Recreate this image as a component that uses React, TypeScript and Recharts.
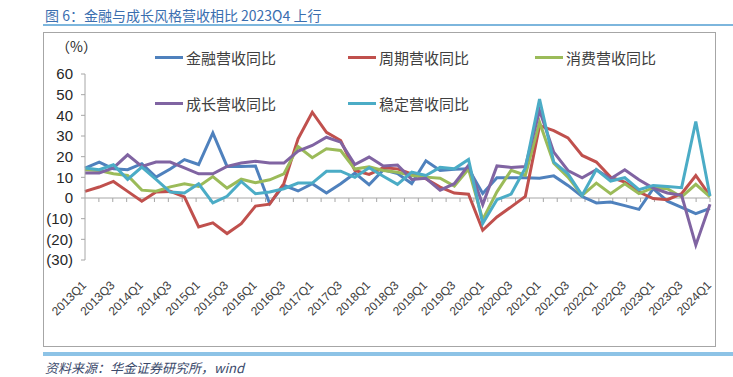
import { LineChart, Line, XAxis, YAxis, ReferenceLine, Legend } from "recharts";

const quarters = [
  "2013Q1", "2013Q2", "2013Q3", "2013Q4",
  "2014Q1", "2014Q2", "2014Q3", "2014Q4",
  "2015Q1", "2015Q2", "2015Q3", "2015Q4",
  "2016Q1", "2016Q2", "2016Q3", "2016Q4",
  "2017Q1", "2017Q2", "2017Q3", "2017Q4",
  "2018Q1", "2018Q2", "2018Q3", "2018Q4",
  "2019Q1", "2019Q2", "2019Q3", "2019Q4",
  "2020Q1", "2020Q2", "2020Q3", "2020Q4",
  "2021Q1", "2021Q2", "2021Q3", "2021Q4",
  "2022Q1", "2022Q2", "2022Q3", "2022Q4",
  "2023Q1", "2023Q2", "2023Q3", "2023Q4",
  "2024Q1",
];

// 金融营收同比
const finance = [
  14.5, 17.4, 14.1, 13.7, 16.6, 10.1, 14.0, 18.6, 16.2, 31.5, 15.3, 15.3,
  15.5, -2.7, 6.1, 3.4, 6.9, 2.4, 6.9, 12.0, 6.4, 13.6, 11.8, 7.0,
  18.0, 13.3, 13.9, 14.1, 2.2, 9.8, 9.8, 9.8, 9.6, 10.7, 6.1, 0.7,
  -2.4, -1.9, -3.7, -5.5, 4.5, -1.5, -4.5, -7.6, -5.0,
];

// 周期营收同比
const cyclical = [
  3.2, 5.3, 8.0, 3.2, -1.6, 2.9, 3.2, 0.5, -14.0, -12.0, -17.2, -12.4,
  -3.9, -3.0, 7.0, 28.6, 41.5, 31.8, 27.8, 13.3, 11.4, 14.6, 14.1, 11.7,
  9.3, 5.3, 2.4, 1.8, -15.6, -9.2, -4.3, 0.8, 35.0, 32.6, 29.1, 20.6,
  17.4, 10.1, 7.7, 2.9, -0.3, -0.8, 2.1, 10.9, 1.0,
];

// 消费营收同比
const consumer = [
  13.7, 13.3, 11.7, 10.9, 3.8, 3.3, 5.4, 6.9, 5.6, 10.4, 4.8, 9.1,
  7.4, 8.8, 11.7, 24.9, 19.5, 23.8, 23.0, 14.0, 15.1, 13.3, 12.5, 10.9,
  10.1, 9.6, 5.8, 14.0, -10.5, 3.0, 13.4, 11.0, 36.7, 16.8, 10.1, 1.3,
  7.2, 2.1, 6.9, 2.1, 5.0, 4.5, 0.5, 6.6, 0.5,
];

// 成长营收同比
const growth = [
  12.1, 12.1, 14.6, 20.9, 15.3, 17.4, 17.4, 14.6, 11.7, 11.7, 15.3, 16.9,
  17.8, 16.9, 16.9, 22.7, 25.4, 29.4, 27.0, 16.2, 19.8, 15.5, 16.0, 9.0,
  9.5, 3.8, 6.9, 15.8, -3.2, 15.5, 14.8, 15.2, 42.3, 22.2, 13.3, 9.8,
  13.7, 9.3, 13.7, 8.8, 4.8, 2.4, 1.3, -22.8, -3.0,
];

// 稳定营收同比
const stable = [
  14.5, 13.7, 16.1, 9.0, 15.0, 9.0, 2.9, 2.4, 6.9, -2.4, 0.8, 8.0,
  2.1, 2.9, 4.5, 7.2, 7.2, 12.9, 13.0, 10.0, 14.6, 10.5, 6.6, 12.5,
  10.9, 14.8, 14.1, 18.6, -12.3, -0.8, 1.9, 14.5, 47.9, 17.4, 11.7, 1.3,
  13.8, 8.2, 9.8, 4.0, 6.1, 5.6, 5.0, 37.0, 1.0,
];

const yTicks = [-30, -20, -10, 0, 10, 20, 30, 40, 50, 60];

const series = [
  { key: "finance", name: "金融营收同比", color: "#4F81BD" },
  { key: "cyclical", name: "周期营收同比", color: "#C0504D" },
  { key: "consumer", name: "消费营收同比", color: "#9BBB59" },
  { key: "growth", name: "成长营收同比", color: "#8064A2" },
  { key: "stable", name: "稳定营收同比", color: "#4BACC6" },
];

const data = quarters.map((q, i) => ({
  q,
  finance: finance[i],
  cyclical: cyclical[i],
  consumer: consumer[i],
  growth: growth[i],
  stable: stable[i],
}));

const CJK = '"Noto Sans CJK SC", "Noto Sans", sans-serif';
const LATIN = '"Liberation Sans", Arial, sans-serif';

const fmtY = (v: number) => (v < 0 ? `(${-v})` : `${v}`);

const XTick = ({ x, y, payload }: any) => (
  <text
    x={x + 2}
    y={y + 18}
    transform={`rotate(-45 ${x + 2} ${y + 18})`}
    textAnchor="end"
    fontSize={12}
    fontFamily={LATIN}
    fill="#404040">
    {payload.value}
  </text>
);

// zero axis line with category tick marks
const ZeroAxis = (props: any) => {
  const { x1, x2, y1 } = props;
  const n = quarters.length;
  const step = (x2 - x1) / n;
  const marks = [];
  for (let k = 1; k <= n; k++) {
    const tx = x1 + step * k;
    marks.push(<line key={k} x1={tx} x2={tx} y1={y1} y2={y1 + 4} stroke="#A6A6A6" />);
  }
  return (
    <g>
      <line x1={x1} x2={x2} y1={y1} y2={y1} stroke="#A6A6A6" />
      {marks}
    </g>
  );
};

// legend slot per series, in series order
const legendSlots = [
  { left: 155, top: 57 },
  { left: 348, top: 57 },
  { left: 535, top: 57 },
  { left: 155, top: 103 },
  { left: 348, top: 103 },
];

const renderLegend = (props: any) => {
  const { payload } = props;
  return (
    <div style={{ position: "relative", width: 0, height: 0 }}>
      {(payload || []).map((p: any) => {
        const idx = series.findIndex((s) => s.name === p.value);
        const slot = legendSlots[idx < 0 ? 0 : idx];
        return (
          <div
            key={p.value}
            style={{
              position: "absolute",
              left: slot.left,
              top: slot.top - 11,
              height: 22,
              display: "flex",
              alignItems: "center",
              whiteSpace: "nowrap",
            }}>
            <span style={{ display: "inline-block", width: 28, height: 3, background: p.color }} />
            <span style={{ marginLeft: 3, fontFamily: CJK, fontSize: 15, color: "#404040" }}>{p.value}</span>
          </div>
        );
      })}
    </div>
  );
};

export default function App() {
  return (
    <div
      style={{
        position: "absolute",
        left: 0,
        top: 0,
        width: 733,
        height: 377,
        background: "#fff",
        overflow: "hidden",
      }}>
      <div
        style={{
          position: "absolute",
          left: 45,
          top: 5,
          fontFamily: CJK,
          fontSize: 14,
          color: "#3A6EAF",
          whiteSpace: "nowrap",
        }}>
        图 6：金融与成长风格营收相比 2023Q4 上行
      </div>
      <div style={{ position: "absolute", left: 43, top: 24, width: 690, height: 2, background: "#7DB6DD" }} />
      <div
        style={{
          position: "absolute",
          left: 43,
          top: 32,
          width: 671,
          height: 313,
          border: "1px solid #A6A6A6",
        }}
      />
      <div
        style={{
          position: "absolute",
          left: 56,
          top: 36,
          fontFamily: CJK,
          fontSize: 14,
          color: "#262626",
        }}>
        （%）
      </div>
      <div style={{ position: "absolute", left: 43, top: 352, width: 690, height: 4, background: "#8DC3E6" }} />
      <div
        style={{
          position: "absolute",
          left: 45,
          top: 358,
          fontFamily: CJK,
          fontSize: 13,
          fontStyle: "italic",
          color: "#3B4A6B",
          whiteSpace: "nowrap",
        }}>
        资料来源：华金证券研究所，wind
      </div>
      <div style={{ position: "absolute", left: 0, top: 0 }}>
        <LineChart width={733} height={377} data={data} margin={{ top: 74, right: 23, bottom: 57, left: 45 }}>
          <XAxis dataKey="q" interval={1} axisLine={false} tickLine={false} tick={<XTick />} height={60} />
          <YAxis
            domain={[-30, 60]}
            ticks={yTicks}
            interval={0}
            tickFormatter={fmtY}
            width={40}
            axisLine={{ stroke: "#A6A6A6" }}
            tickLine={{ stroke: "#A6A6A6" }}
            tickSize={4}
            tickMargin={8}
            tick={{ fontSize: 15, fontFamily: LATIN, fill: "#262626" }}
          />
          <ReferenceLine y={0} shape={<ZeroAxis />} />
          <Legend
            layout="vertical"
            align="center"
            verticalAlign="middle"
            wrapperStyle={{ left: 0, top: 0, width: 0, height: 0 }}
            content={renderLegend}
          />
          {series.map((s) => (
            <Line
              key={s.key}
              type="linear"
              dataKey={s.key}
              name={s.name}
              stroke={s.color}
              strokeWidth={3}
              dot={false}
              isAnimationActive={false}
            />
          ))}
        </LineChart>
      </div>
    </div>
  );
}
